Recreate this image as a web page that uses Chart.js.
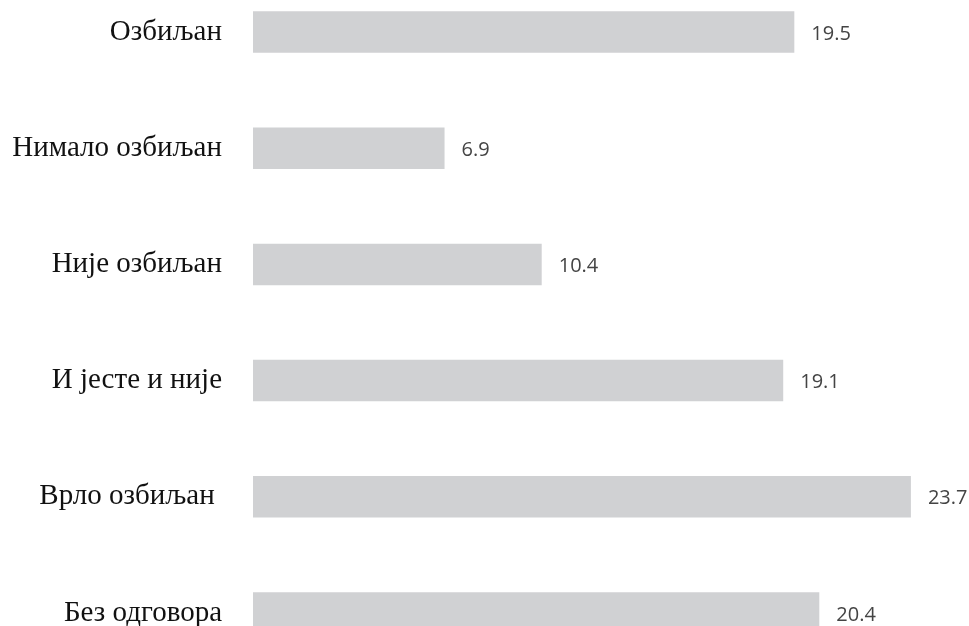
<!DOCTYPE html>
<html>
<head>
<meta charset="utf-8">
<script src="https://cdn.jsdelivr.net/npm/chart.js@4"></script>
<style>
  html, body { margin: 0; padding: 0; background: #fff; overflow: hidden; }
  #answers { position: absolute; left: 0; top: -26px; }
</style>
</head>
<body>
<canvas id="answers" width="969" height="697"></canvas>
<script>
// answers and their shares (%)
let answerLabels = ["Озбиљан", "Нимало озбиљан", "Није озбиљан", "И јесте и није", "Врло озбиљан ", "Без одговора"];
let answerValues = [19.5, 6.9, 10.4, 19.1, 23.7, 20.4];

// writes the value next to the end of each bar
let valueLabels = {
    id: "valueLabels",
    afterDatasetsDraw(chart) {
        let ctx = chart.ctx;
        let meta = chart.getDatasetMeta(0);
        ctx.save();
        ctx.font = "20px 'Open Sans'";
        ctx.fillStyle = "#444444";
        ctx.textAlign = "left";
        ctx.textBaseline = "middle";
        meta.data.forEach((bar, i) => {
            ctx.fillText(answerValues[i].toFixed(1), bar.x + 17, bar.y + 2);
        });
        ctx.restore();
    }
};

let ctx1 = document.getElementById("answers").getContext("2d");
let myChart = new Chart(ctx1, {
    type: "bar",
    data: {
        labels: answerLabels,
        datasets: [{
            data: answerValues,
            backgroundColor: "#d0d1d3",
            barPercentage: 0.357,
            categoryPercentage: 1
        }]
    },
    options: {
        indexAxis: "y",
        responsive: false,
        animation: false,
        layout: { padding: { left: 0, right: 22, top: 0, bottom: 0 } },
        plugins: {
            legend: { display: false },
            tooltip: { enabled: false }
        },
        scales: {
            x: {
                display: false,
                min: 0,
                max: 25
            },
            y: {
                grid: { display: false, drawTicks: false },
                border: { display: false },
                ticks: {
                    padding: 31,
                    color: "#111111",
                    font: { family: "'Liberation Serif'", size: 29 }
                },
                afterFit(scale) {
                    scale.width = 253;
                    scale.paddingTop = 0;
                    scale.paddingBottom = 0;
                }
            }
        }
    },
    plugins: [valueLabels]
});
</script>
</body>
</html>
